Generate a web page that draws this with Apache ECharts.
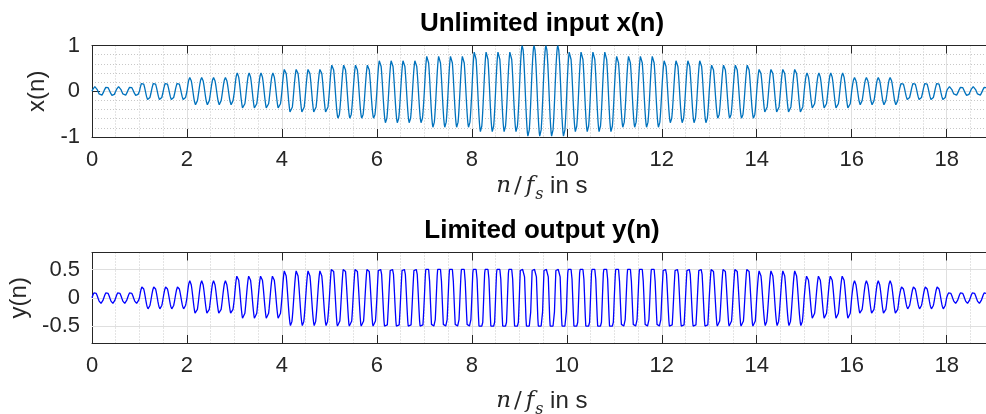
<!DOCTYPE html>
<html>
<head>
<meta charset="utf-8">
<script src="https://cdn.jsdelivr.net/npm/echarts@6/dist/echarts.min.js"></script>
<style>
  html, body { margin: 0; padding: 0; background: #ffffff; }
  #chart { width: 986px; height: 414px; }
</style>
</head>
<body>
<div id="chart"></div>
<script>
// Peak amplitude of the test tone in each one-second segment (0-1 s, 1-2 s, ...)
const segmentAmplitude = [0.1, 0.2, 0.3, 0.4, 0.5, 0.6, 0.7, 0.8, 0.9, 1.0,
                          0.9, 0.8, 0.7, 0.6, 0.5, 0.4, 0.3, 0.2, 0.1];
const toneFrequency = 4;     // Hz
const sampleRate = 100;      // fs, samples per second
const limitLevel = 0.5;      // limiter threshold

// Axis ticks
const timeTicks = [0, 2, 4, 6, 8, 10, 12, 14, 16, 18];
const inputTicks = [-1, 0, 1];
const outputTicks = [-0.5, 0, 0.5];

// Sampled input tone x(n) and hard-limited output y(n)
const inputSamples = [];
const outputSamples = [];
const sampleCount = segmentAmplitude.length * sampleRate;
for (let n = 0; n <= sampleCount; n++) {
  const t = n / sampleRate;
  const seg = Math.min(Math.floor(t), segmentAmplitude.length - 1);
  const x = segmentAmplitude[seg] * Math.sin(2 * Math.PI * toneFrequency * t);
  inputSamples.push([t, x]);
  outputSamples.push([t, Math.max(-limitLevel, Math.min(limitLevel, x))]);
}

const FONT = "'Liberation Sans', Arial, sans-serif";
const SERIF = "'DejaVu Serif', 'Liberation Serif', serif";
const AXIS_COLOR = '#262626';
const MAJOR_GRID = '#dfdfdf';
const MINOR_GRID = '#c8c8c8';
const X_MAX = 20;
const PLOT_LEFT = 92;
const PLOT_WIDTH = 949.6;   // 0..20 s; the part past ~18.8 s runs off the canvas

const axisNameRich = {
  n: { fontFamily: SERIF, fontStyle: 'italic', fontSize: 23, color: AXIS_COLOR, padding: [0, 2, 5, 0], verticalAlign: 'bottom' },
  sl: { fontFamily: SERIF, fontSize: 23, color: AXIS_COLOR, padding: [0, 2, 5, 1], verticalAlign: 'bottom' },
  f: { fontFamily: SERIF, fontStyle: 'italic', fontSize: 23, color: AXIS_COLOR, padding: [0, 1, 5, 2], verticalAlign: 'bottom' },
  s: { fontFamily: SERIF, fontStyle: 'italic', fontSize: 16, color: AXIS_COLOR, verticalAlign: 'bottom' },
  t: { fontFamily: FONT, fontSize: 24, color: AXIS_COLOR, padding: [0, 0, 5, 0], verticalAlign: 'bottom' }
};

function timeAxis(gridIndex, nameGap) {
  return {
    type: 'value', gridIndex: gridIndex, position: 'bottom',
    min: 0, max: X_MAX, interval: 2,
    name: '{n|n}{sl|/}{f|f}{s|s}{t| in s}', nameLocation: 'middle', nameGap: nameGap,
    // right padding centres the name on the visible 0..19 s span
    nameTextStyle: { rich: axisNameRich, padding: [0, 50, 0, 0] },
    axisLine: { show: true, onZero: false, lineStyle: { color: AXIS_COLOR, width: 1 } },
    axisTick: { show: true, inside: true, length: 8, lineStyle: { color: AXIS_COLOR, width: 1 } },
    axisLabel: {
      fontFamily: FONT, fontSize: 22, color: AXIS_COLOR, margin: 12,
      formatter: v => (timeTicks.indexOf(v) >= 0 ? String(v) : '')
    },
    splitLine: { show: true, lineStyle: { color: MAJOR_GRID, width: 1 } },
    minorTick: { show: false, splitNumber: 4 },
    minorSplitLine: { show: true, lineStyle: { color: MINOR_GRID, width: 1, type: [1, 2] } }
  };
}

function topFrameAxis(gridIndex) {
  return {
    type: 'value', gridIndex: gridIndex, position: 'top',
    min: 0, max: X_MAX, interval: 2,
    axisLine: { show: true, onZero: false, lineStyle: { color: AXIS_COLOR, width: 1 } },
    axisTick: { show: true, inside: true, length: 8, lineStyle: { color: AXIS_COLOR, width: 1 } },
    axisLabel: { show: false },
    splitLine: { show: false }
  };
}

const option = {
  animation: false,
  backgroundColor: '#ffffff',
  title: [
    { text: 'Unlimited input x(n)', left: 542, top: 11, textAlign: 'center', padding: 0,
      textStyle: { fontFamily: FONT, fontSize: 26, fontWeight: 'bold', color: '#000000' } },
    { text: 'Limited output y(n)', left: 542, top: 218, textAlign: 'center', padding: 0,
      textStyle: { fontFamily: FONT, fontSize: 26, fontWeight: 'bold', color: '#000000' } }
  ],
  grid: [
    { left: PLOT_LEFT, top: 45.5, height: 91.5, width: PLOT_WIDTH, containLabel: false, outerBoundsMode: 'none' },
    { left: PLOT_LEFT, top: 252.5, height: 90.5, width: PLOT_WIDTH, containLabel: false, outerBoundsMode: 'none' }
  ],
  xAxis: [timeAxis(0, 37), topFrameAxis(0), timeAxis(1, 46), topFrameAxis(1)],
  yAxis: [
    {
      type: 'value', gridIndex: 0, min: -1, max: 1, interval: 1,
      name: 'x(n)', nameLocation: 'middle', nameGap: 27, nameRotate: 90,
      nameTextStyle: { fontFamily: FONT, fontSize: 24, color: AXIS_COLOR },
      axisLine: { show: true, onZero: false, lineStyle: { color: AXIS_COLOR, width: 1 } },
      axisTick: { show: true, inside: true, length: 8, lineStyle: { color: AXIS_COLOR, width: 1 } },
      axisLabel: { fontFamily: FONT, fontSize: 22, color: AXIS_COLOR, margin: 12,
        formatter: v => (inputTicks.indexOf(v) >= 0 ? String(v) : '') },
      splitLine: { show: true, lineStyle: { color: MAJOR_GRID, width: 1 } },
      minorTick: { show: false, splitNumber: 5 },
      minorSplitLine: { show: true, lineStyle: { color: MINOR_GRID, width: 1, type: [1, 2] } }
    },
    {
      type: 'value', gridIndex: 1, min: -0.8, max: 0.8, interval: 0.1,
      name: 'y(n)', nameLocation: 'middle', nameGap: 48, nameRotate: 90,
      nameTextStyle: { fontFamily: FONT, fontSize: 24, color: AXIS_COLOR },
      axisLine: { show: true, onZero: false, lineStyle: { color: AXIS_COLOR, width: 1 } },
      axisTick: { show: true, inside: true, length: 8, customValues: outputTicks,
        lineStyle: { color: AXIS_COLOR, width: 1 } },
      axisLabel: { fontFamily: FONT, fontSize: 22, color: AXIS_COLOR, margin: 12,
        customValues: outputTicks, formatter: v => String(v) },
      splitLine: { show: true, lineStyle: { color: MINOR_GRID, width: 1, type: [1, 2] } }
    }
  ],
  series: [
    {
      // major grid lines of the lower panel at the labelled ticks
      type: 'line', xAxisIndex: 2, yAxisIndex: 1, data: [], z: 1, silent: true,
      markLine: {
        silent: true, symbol: 'none', label: { show: false },
        lineStyle: { color: MAJOR_GRID, width: 1, type: 'solid' },
        data: outputTicks.map(v => ({ yAxis: v }))
      }
    },
    {
      name: 'x(n)', type: 'line', xAxisIndex: 0, yAxisIndex: 0, data: inputSamples,
      showSymbol: false, z: 10, lineStyle: { color: '#0072BD', width: 1.3 }, itemStyle: { color: '#0072BD' }
    },
    {
      name: 'y(n)', type: 'line', xAxisIndex: 2, yAxisIndex: 1, data: outputSamples,
      showSymbol: false, z: 10, lineStyle: { color: '#0000FF', width: 1.3 }, itemStyle: { color: '#0000FF' }
    }
  ]
};

const chart = echarts.init(document.getElementById('chart'), null, { renderer: 'canvas' });
chart.setOption(option);
</script>
</body>
</html>
